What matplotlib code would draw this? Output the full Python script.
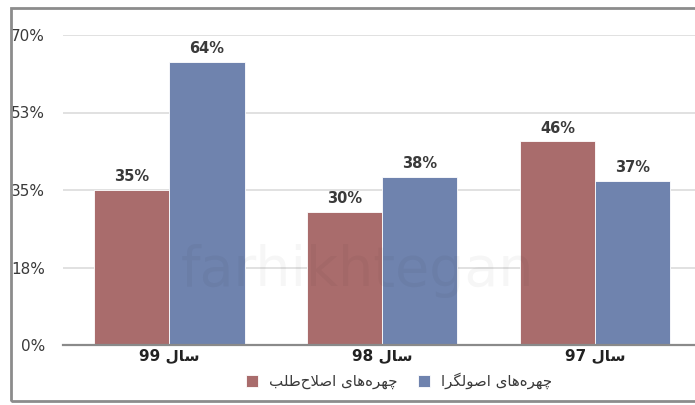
import numpy as np
import matplotlib.pyplot as plt
from matplotlib.patches import Rectangle

# Persian strings written with Arabic presentation forms in visual (left-to-right) order,
# because matplotlib does no shaping/bidi on its own.
SAL = "\uFEDD\uFE8E\uFEB3"  # "سال"
CHEHREHAYE = "\uFB7C\uFEEC\uFEAE\uFEE9\uFEEB\uFE8E\uFBFC"  # "چهره‌های" (logical order)
ESLAHTALAB = "\uFE8D\uFEBB\uFEFC\uFEA1\uFEC3\uFEE0\uFE90"  # "اصلاح‌طلب" (logical order)
OSULGARA = "\uFE8D\uFEBB\uFEEE\uFEDF\uFB95\uFEAE\uFE8D"  # "اصولگرا" (logical order)


def visual(logical):
    return logical[::-1]


categories = ["99", "98", "97"]
reformists = [35, 30, 46]
principlists = [64, 38, 37]
series_names = [visual(CHEHREHAYE + " " + ESLAHTALAB), visual(CHEHREHAYE + " " + OSULGARA)]
y_ticks = [0, 17.5, 35, 52.5, 70]
y_labels = ["0%", "18%", "35%", "53%", "70%"]

red = "#a96c6c"
blue = "#6f83ae"
txt = "#3a3a3a"

W, H = 695, 405
fig = plt.figure(figsize=(W / 100, H / 100), dpi=100)
plt.rcParams['font.family'] = ['DejaVu Sans']

# outer frame
fig.patches.append(Rectangle((11 / W, 4 / H), 1.0, 393 / H, transform=fig.transFigure,
                             fill=False, edgecolor="#8c8c8c", linewidth=2))

ax = fig.add_axes([63 / W, 60 / H, (W - 63) / W, 310 / H])
x = np.arange(len(categories))
bw = 0.353
b1 = ax.bar(x - bw / 2, reformists, bw, color=red, edgecolor="white", linewidth=0.6,
            label=series_names[0], zorder=3)
b2 = ax.bar(x + bw / 2, principlists, bw, color=blue, edgecolor="white", linewidth=0.6,
            label=series_names[1], zorder=3)

for bars, vals in ((b1, reformists), (b2, principlists)):
    for r, v in zip(bars, vals):
        ax.text(r.get_x() + r.get_width() / 2, v + 1.3, f"{v}%", ha="center", va="bottom",
                fontsize=10.5, fontweight="bold", color=txt)

ax.set_xlim(-0.5, 2.47)
ax.set_ylim(0, 70)
ax.set_yticks(y_ticks)
ax.set_yticklabels(y_labels, fontsize=11, color=txt)
ax.set_xticks(x)
ax.set_xticklabels([c + " " + SAL for c in categories], fontsize=11, fontweight="bold", color="#222222")
ax.tick_params(axis="both", length=0)
ax.tick_params(axis="y", pad=13)
ax.tick_params(axis="x", pad=2)
ax.grid(axis="y", color="#dcdcdc", linewidth=1.2, zorder=0)
for s in ["top", "right", "left"]:
    ax.spines[s].set_visible(False)
ax.spines["bottom"].set_color("#8a8a8a")
ax.spines["bottom"].set_linewidth(1.6)
ax.spines["bottom"].set_zorder(4)

# faint watermark
fig.text(0.515, 0.33, "farhikhtegan", fontsize=40, color="#000000", alpha=0.035,
         ha="center", va="center")

ax.legend(loc="center", bbox_to_anchor=(399 / W, 24 / H), bbox_transform=fig.transFigure,
          ncol=2, frameon=False, fontsize=10.8, handlelength=0.8, handleheight=0.8,
          handletextpad=0.7, columnspacing=1.4, labelcolor=txt)

fig.savefig("out.png", dpi=100)
